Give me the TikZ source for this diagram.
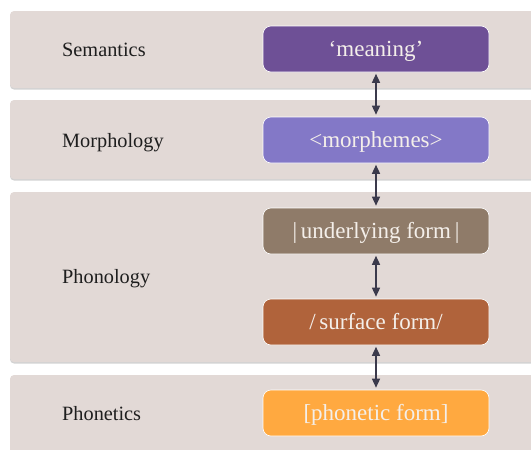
\documentclass[tikz,border=0pt]{standalone}
\usepackage{fontspec}
\setmainfont{Liberation Serif}
\usetikzlibrary{arrows.meta,shadows}

\definecolor{bandfill}{HTML}{E2D9D6}
\definecolor{semcol}{HTML}{6E5096}
\definecolor{morcol}{HTML}{8378C7}
\definecolor{undcol}{HTML}{8F7B69}
\definecolor{surcol}{HTML}{B0633B}
\definecolor{phocol}{HTML}{FFA940}
\definecolor{linkcol}{HTML}{3B3A4C}
\definecolor{labelcol}{HTML}{1E1E1E}
\definecolor{boxtext}{HTML}{F4EFEA}

\tikzset{
  band/.style={fill=bandfill, rounded corners=4pt,
    drop shadow={shadow xshift=0pt, shadow yshift=-1.5pt, opacity=.35, fill=gray}},
  levellabel/.style={anchor=west, text=labelcol, font=\fontsize{20.3}{22}\selectfont,
    inner sep=0pt, text height=15pt, text depth=1pt},
  formbox/.style={rounded corners=8pt, minimum width=226pt, minimum height=46pt,
    draw=white, line width=0.6pt, text=boxtext, inner sep=0pt,
    text height=17pt, text depth=2pt,
    font=\fontsize{23}{25}\selectfont},
  link/.style={linkcol, line width=1.4pt,
    {Triangle[length=9pt,width=8pt]}-{Triangle[length=9pt,width=8pt]},
    shorten <=1.5pt, shorten >=2pt}
}

\begin{document}
\begin{tikzpicture}[x=1pt, y=-1pt]
  \useasboundingbox (0,0) rectangle (531,450);
  \clip (0,0) rectangle (531,450);

  % level bands
  \path[band] (10,11) rectangle (545,88);
  \path[band] (10,100) rectangle (545,179);
  \path[band] (10,192) rectangle (545,362);
  \path[band] (10,375) rectangle (545,470);

  % level names
  \node[levellabel] (lsem) at (62,49) {Semantics};
  \node[levellabel] (lmor) at (62,140) {Morphology};
  \node[levellabel] (lpho) at (62,276) {Phonology};
  \node[levellabel] (lphn) at (62,413) {Phonetics};

  % representations
  \node[formbox, fill=semcol] (mean) at (376,49) {‘meaning’};
  \node[formbox, fill=morcol] (morph) at (376,140) {<morphemes>};
  \node[formbox, fill=undcol] (under) at (376,231) {|\,underlying form\,|};
  \node[formbox, fill=surcol] (surf) at (376,322) {/\,surface form/};
  \node[formbox, fill=phocol] (phon) at (376,413) {[phonetic form]};

  % mappings between levels
  \draw[link] (mean.south) -- (morph.north);
  \draw[link] (morph.south) -- (under.north);
  \draw[link] (under.south) -- (surf.north);
  \draw[link] (surf.south) -- (phon.north);
\end{tikzpicture}
\end{document}
